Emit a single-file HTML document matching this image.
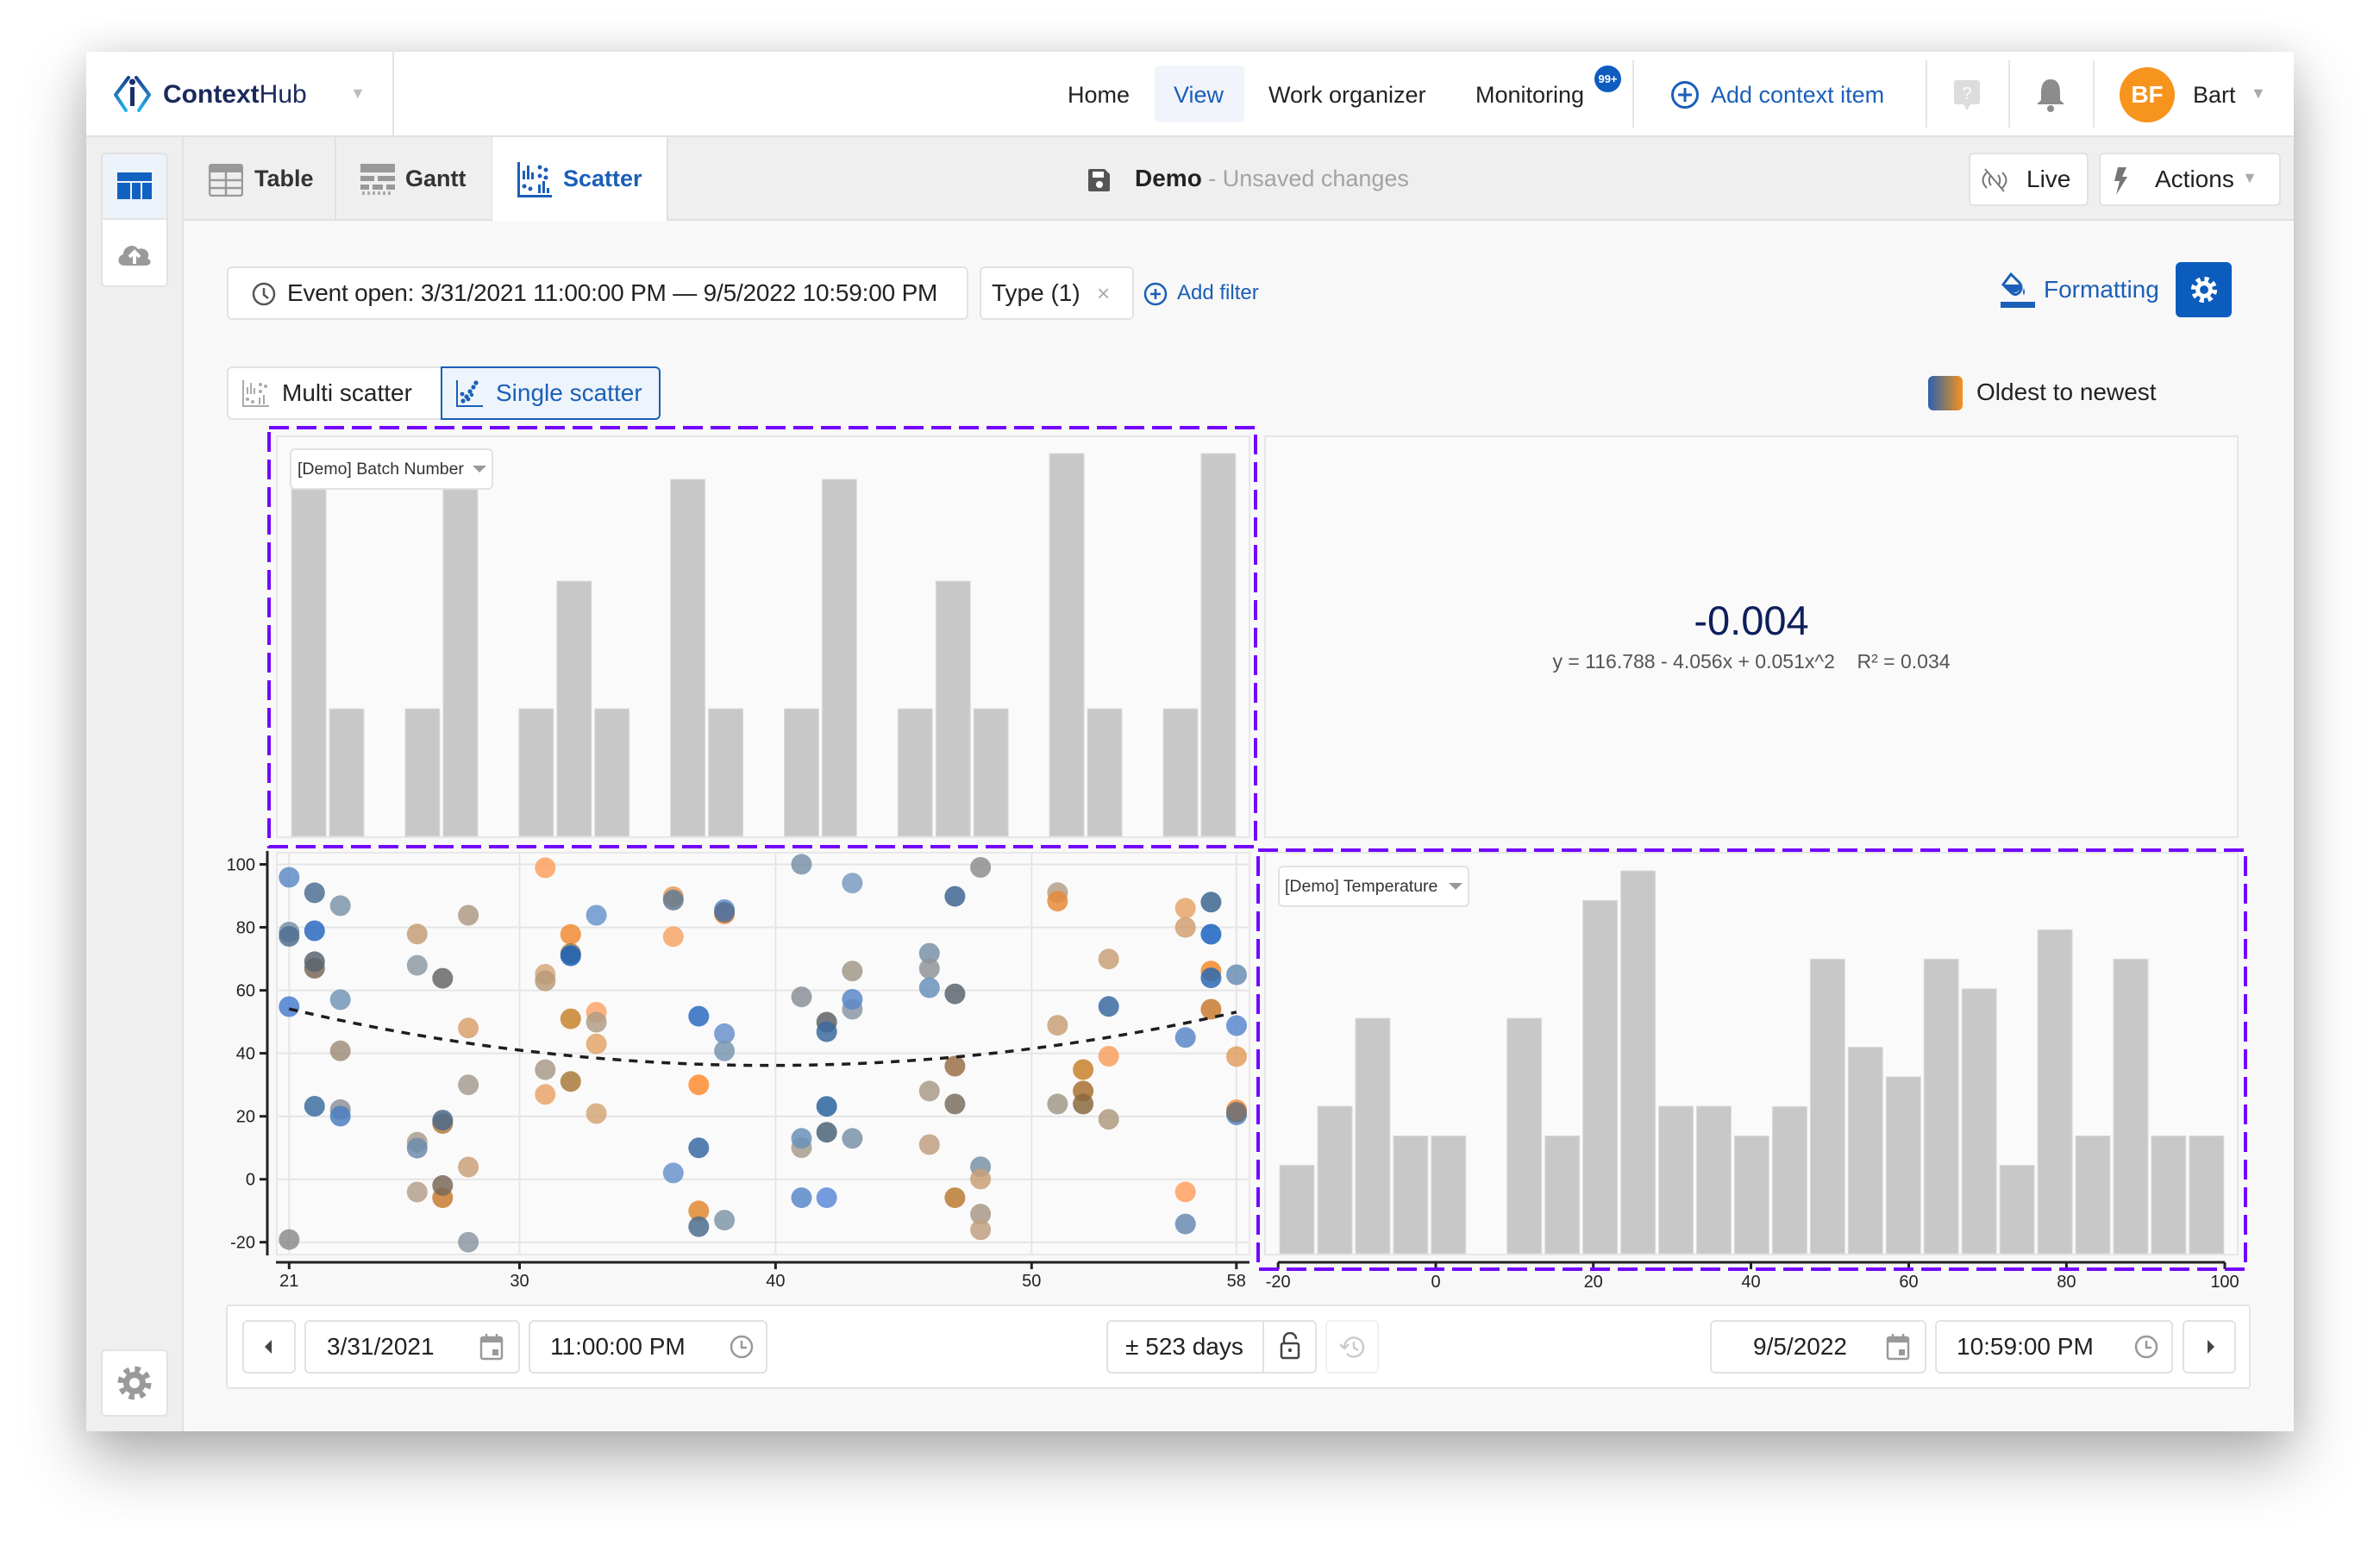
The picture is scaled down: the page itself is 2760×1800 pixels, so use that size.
<!DOCTYPE html>
<html><head><meta charset="utf-8">
<style>
*{box-sizing:border-box;margin:0;padding:0}
body{width:2760px;height:1800px;background:#fff;position:relative;overflow:hidden;font-family:"Liberation Sans",sans-serif;color:#222}
.a{position:absolute}
.t{position:absolute;white-space:nowrap;line-height:40px;font-size:27px}
.box{position:absolute;background:#fff;border:2px solid #e2e2e2;border-radius:6px}
.vd{position:absolute;width:2px;background:#e6e6e6}
</style></head><body>

<!-- window -->
<div class="a" style="left:100px;top:60px;width:2560px;height:1600px;background:#f8f8f8;box-shadow:0 34px 70px rgba(0,0,0,.30),0 0 40px rgba(0,0,0,.10)"></div>

<!-- header -->
<div class="a" style="left:100px;top:60px;width:2560px;height:99px;background:#fff;border-bottom:2px solid #e2e2e2"></div>
<svg class="a" style="left:128px;top:84px" width="52" height="52" viewBox="128 84 52 52">
  <defs><linearGradient id="lg" x1="0" y1="0" x2="0" y2="1"><stop offset="0" stop-color="#1b3f95"/><stop offset="1" stop-color="#25b4ea"/></linearGradient></defs>
  <path d="M149 90 L134 110 L146 128 M158 90 L173 110 L161 128" fill="none" stroke="url(#lg)" stroke-width="4" stroke-linejoin="round" stroke-linecap="round"/>
  <circle cx="153.5" cy="95" r="3.5" fill="#1b2f6e"/>
  <rect x="151" y="101" width="5" height="22" fill="#1b2f6e"/>
</svg>
<div class="t" style="left:189px;top:90px;font-size:30px;color:#1b2a5c"><b>Context</b>Hub</div>
<div class="t" style="left:406px;top:88px;font-size:18px;color:#bbb">▼</div>
<div class="vd" style="left:455px;top:60px;height:98px;background:#e4e4e4"></div>

<div class="t" style="left:1238px;top:90px">Home</div>
<div class="a" style="left:1339px;top:76px;width:104px;height:66px;background:#f1f4fa;border-radius:6px"></div>
<div class="t" style="left:1361px;top:90px;color:#1a5fb8">View</div>
<div class="t" style="left:1471px;top:90px">Work organizer</div>
<div class="t" style="left:1711px;top:90px">Monitoring</div>
<div class="a" style="left:1849px;top:76px;width:31px;height:31px;border-radius:50%;background:#0f5cc0;color:#fff;font-size:13px;font-weight:bold;line-height:31px;text-align:center">99+</div>
<div class="vd" style="left:1893px;top:70px;height:78px"></div>
<svg class="a" style="left:1936px;top:92px" width="36" height="36"><circle cx="18" cy="18" r="14.5" fill="none" stroke="#1a5fb8" stroke-width="3"/><path d="M18 10v16M10 18h16" stroke="#1a5fb8" stroke-width="3"/></svg>
<div class="t" style="left:1984px;top:90px;color:#1a5fb8">Add context item</div>
<div class="vd" style="left:2233px;top:70px;height:78px"></div>
<svg class="a" style="left:2264px;top:92px" width="36" height="38"><rect x="2" y="1" width="30" height="28" rx="3" fill="#dcdcdc"/><path d="M13 29 L17 36 L21 29Z" fill="#dcdcdc"/><text x="17" y="23" font-size="20" fill="#fff" text-anchor="middle" font-family="Liberation Sans">?</text></svg>
<div class="vd" style="left:2329px;top:70px;height:78px"></div>
<svg class="a" style="left:2358px;top:88px" width="40" height="44"><path d="M20 4 C11 4 9 12 9 20 L9 28 L4 33 L36 33 L31 28 L31 20 C31 12 29 4 20 4Z" fill="#8c8c8c"/><circle cx="20" cy="38" r="4" fill="#8c8c8c"/></svg>
<div class="vd" style="left:2427px;top:70px;height:78px"></div>
<div class="a" style="left:2458px;top:78px;width:64px;height:64px;border-radius:50%;background:#f7941d;color:#fff;font-size:28px;font-weight:bold;line-height:64px;text-align:center">BF</div>
<div class="t" style="left:2543px;top:90px">Bart</div>
<div class="t" style="left:2610px;top:88px;font-size:18px;color:#aaa">▼</div>

<!-- sidebar -->
<div class="a" style="left:100px;top:159px;width:113px;height:1501px;background:#efefef;border-right:2px solid #e2e2e2"></div>
<div class="box" style="left:117px;top:177px;width:78px;height:156px;overflow:hidden">
  <div class="a" style="left:0;top:0;width:74px;height:76px;background:#edf3fa;border-bottom:2px solid #e4e4e4"></div>
</div>
<svg class="a" style="left:130px;top:195px" width="50" height="40" viewBox="130 195 50 40">
  <rect x="136" y="200" width="40" height="10" fill="#1262c2"/>
  <rect x="136" y="212" width="15" height="19" fill="#1262c2"/>
  <rect x="153" y="212" width="10" height="19" fill="#1262c2"/>
  <rect x="165" y="212" width="11" height="19" fill="#1262c2"/>
</svg>
<svg class="a" style="left:134px;top:276px" width="44" height="36" viewBox="0 0 44 36"><path d="M10 32 C2 32 1 21 9 19 C9 9 22 6 26 13 C35 10 41 18 37 24 C43 26 41 32 35 32Z" fill="#9a9a9a"/><path d="M22 30 V17 M16 22 L22 16 L28 22" stroke="#fff" stroke-width="4" fill="none"/></svg>
<div class="box" style="left:117px;top:1565px;width:78px;height:78px"></div>
<svg class="a" style="left:134px;top:1582px" width="44" height="44" viewBox="0 0 44 44"><circle cx="22" cy="22" r="13" fill="#9a9a9a"/><circle cx="22" cy="22" r="16" fill="none" stroke="#9a9a9a" stroke-width="7" stroke-dasharray="6.3 6.3"/><circle cx="22" cy="22" r="6" fill="#fff"/></svg>

<!-- tab bar -->
<div class="a" style="left:213px;top:159px;width:2447px;height:97px;background:#efefef;border-bottom:2px solid #e0e0e0"></div>
<div class="vd" style="left:388px;top:159px;height:95px;background:#e0e0e0"></div>
<div class="vd" style="left:570px;top:159px;height:95px;background:#e0e0e0"></div>
<div class="a" style="left:571px;top:159px;width:202px;height:97px;background:#fff"></div>
<div class="vd" style="left:773px;top:159px;height:95px;background:#e0e0e0"></div>
<svg class="a" style="left:242px;top:190px" width="40" height="38"><rect x="1" y="1" width="38" height="36" rx="3" fill="none" stroke="#999" stroke-width="2.5"/><rect x="1" y="1" width="38" height="9" fill="#999"/><path d="M1 19h38M1 28h38M20 10v27" stroke="#999" stroke-width="2.5"/></svg>
<div class="t" style="left:295px;top:187px;font-size:27px;font-weight:bold;color:#333">Table</div>
<svg class="a" style="left:418px;top:190px" width="42" height="38"><rect x="0" y="0" width="40" height="10" fill="#999"/><rect x="0" y="14" width="16" height="6" fill="#999"/><rect x="20" y="14" width="20" height="6" fill="#999"/><rect x="0" y="24" width="10" height="6" fill="#999"/><rect x="14" y="24" width="12" height="6" fill="#999"/><rect x="30" y="24" width="10" height="6" fill="#999"/><path d="M2 34h36" stroke="#aaa" stroke-width="4" stroke-dasharray="3 3"/></svg>
<div class="t" style="left:470px;top:187px;font-size:27px;font-weight:bold;color:#333">Gantt</div>
<svg class="a" style="left:600px;top:188px" width="42" height="42" fill="#1a5fb8"><rect x="0" y="0" width="3" height="40"/><rect x="0" y="38" width="40" height="3"/><rect x="6" y="10" width="3" height="10"/><rect x="11" y="4" width="3" height="16"/><rect x="16" y="12" width="3" height="8"/><circle cx="26" cy="6" r="2.5"/><circle cx="33" cy="9" r="2.5"/><circle cx="26" cy="16" r="2.5"/><circle cx="33" cy="18" r="2.5"/><circle cx="8" cy="28" r="2.5"/><circle cx="15" cy="31" r="2.5"/><rect x="24" y="26" width="3" height="10"/><rect x="29" y="22" width="3" height="14"/><rect x="34" y="30" width="3" height="6"/></svg>
<div class="t" style="left:653px;top:187px;font-size:27px;font-weight:bold;color:#1a5fb8">Scatter</div>

<svg class="a" style="left:1262px;top:196px" width="26" height="26"><path d="M2 0h17l6 6v18a2 2 0 0 1-2 2H2a2 2 0 0 1-2-2V2a2 2 0 0 1 2-2z" fill="#555"/><rect x="5" y="3" width="13" height="7" fill="#fff"/><circle cx="13" cy="18" r="4" fill="#fff"/></svg>
<div class="t" style="left:1316px;top:187px;font-size:28px"><b>Demo</b><span style="color:#a3a3a3;font-size:27px"> - Unsaved changes</span></div>

<div class="box" style="left:2283px;top:177px;width:139px;height:62px"></div>
<svg class="a" style="left:2298px;top:194px" width="30" height="30"><path d="M6 6 C0 12 0 18 6 24 M11 9 C8 12 8 18 11 21 M24 6 C30 12 30 18 24 24 M19 9 C22 12 22 18 19 21" fill="none" stroke="#777" stroke-width="2"/><path d="M4 2 L26 28" stroke="#777" stroke-width="2"/></svg>
<div class="t" style="left:2350px;top:188px;font-size:28px">Live</div>
<div class="box" style="left:2434px;top:177px;width:211px;height:62px"></div>
<svg class="a" style="left:2450px;top:194px" width="20" height="32"><path d="M6 0 L16 0 L11 11 L17 11 L4 32 L8 16 L2 16Z" fill="#777"/></svg>
<div class="t" style="left:2499px;top:188px;font-size:28px">Actions</div>
<div class="t" style="left:2600px;top:186px;font-size:18px;color:#aaa">▼</div>

<!-- filter row -->
<div class="box" style="left:263px;top:309px;width:860px;height:62px"></div>
<svg class="a" style="left:291px;top:326px" width="30" height="30"><circle cx="15" cy="15" r="12" fill="none" stroke="#555" stroke-width="2.5"/><path d="M15 8v8l5 4" fill="none" stroke="#555" stroke-width="2.5"/></svg>
<div class="t" style="left:333px;top:320px;font-size:28px;letter-spacing:-0.2px">Event open: 3/31/2021 11:00:00 PM — 9/5/2022 10:59:00 PM</div>
<div class="box" style="left:1136px;top:309px;width:179px;height:62px"></div>
<div class="t" style="left:1150px;top:320px;font-size:28px">Type (1)</div>
<div class="t" style="left:1272px;top:320px;font-size:26px;color:#aaa">×</div>
<svg class="a" style="left:1325px;top:326px" width="30" height="30"><circle cx="15" cy="15" r="12" fill="none" stroke="#1a5fb8" stroke-width="2.5"/><path d="M15 9v12M9 15h12" stroke="#1a5fb8" stroke-width="2.5"/></svg>
<div class="t" style="left:1365px;top:320px;font-size:24px;color:#1a5fb8">Add filter</div>

<svg class="a" style="left:2318px;top:314px" width="46" height="44"><path d="M14 4 L24 14 Q28 20 24 25 Q19 30 14 25 L5 16 Z" fill="none" stroke="#1a5fb8" stroke-width="3"/><path d="M5 16 L24 16 Q26 21 22 24 Q18 27 14 24Z" fill="#1a5fb8"/><path d="M29 20 Q27 26 29 28 Q31 26 29 20Z" fill="#1a5fb8"/><rect x="2" y="36" width="40" height="7" fill="#1a5fb8"/></svg>
<div class="t" style="left:2370px;top:316px;font-size:28px;color:#1a5fb8">Formatting</div>
<div class="a" style="left:2523px;top:304px;width:65px;height:64px;background:#0b5cbd;border-radius:6px"></div>
<svg class="a" style="left:2538px;top:318px" width="36" height="36" viewBox="0 0 44 44"><circle cx="22" cy="22" r="12" fill="#fff"/><circle cx="22" cy="22" r="15" fill="none" stroke="#fff" stroke-width="7" stroke-dasharray="6 5.8"/><circle cx="22" cy="22" r="6" fill="#0b5cbd"/></svg>

<!-- toggle -->
<div class="a" style="left:263px;top:425px;width:250px;height:62px;background:#fff;border:2px solid #e2e2e2;border-radius:6px 0 0 6px"></div>
<div class="a" style="left:511px;top:425px;width:255px;height:62px;background:#eef4fb;border:2px solid #1a5fb8;border-radius:0 6px 6px 0"></div>
<svg class="a" style="left:281px;top:441px" width="32" height="32" fill="#aaa"><rect x="0" y="0" width="2" height="31"/><rect x="0" y="29" width="31" height="2"/><rect x="5" y="8" width="2" height="8"/><rect x="9" y="3" width="2" height="13"/><rect x="13" y="9" width="2" height="7"/><circle cx="21" cy="5" r="2"/><circle cx="27" cy="7" r="2"/><circle cx="21" cy="13" r="2"/><circle cx="6" cy="22" r="2"/><circle cx="12" cy="25" r="2"/><rect x="19" y="20" width="2" height="8"/><rect x="24" y="17" width="2" height="11"/></svg>
<div class="t" style="left:327px;top:436px;font-size:28px">Multi scatter</div>
<svg class="a" style="left:529px;top:441px" width="32" height="32" fill="#1a5fb8"><rect x="0" y="0" width="2" height="31"/><rect x="0" y="29" width="31" height="2"/><circle cx="8" cy="24" r="2.6"/><circle cx="12" cy="19" r="2.6"/><circle cx="7" cy="16" r="2.4"/><circle cx="16" cy="13" r="2.6"/><circle cx="20" cy="8" r="2.6"/><circle cx="14" cy="22" r="2.4"/><circle cx="23" cy="3" r="2.6"/><circle cx="18" cy="17" r="2.2"/></svg>
<div class="t" style="left:575px;top:436px;font-size:28px;color:#1a5fb8">Single scatter</div>

<div class="a" style="left:2236px;top:436px;width:40px;height:40px;border-radius:6px;background:linear-gradient(90deg,#2c62ae,#8c7a66,#f8911c)"></div>
<div class="t" style="left:2292px;top:435px;font-size:28px">Oldest to newest</div>

<!-- panels -->
<div class="a" style="left:320px;top:505px;width:1130px;height:467px;background:#fafafa;border:2px solid #e6e6e6"></div>
<div class="a" style="left:1466px;top:505px;width:1130px;height:467px;background:#fafafa;border:2px solid #e6e6e6"></div>
<div class="a" style="left:320px;top:988px;width:1130px;height:468px;background:#fafafa;border:2px solid #e8e8e8"></div>
<div class="a" style="left:1466px;top:988px;width:1130px;height:468px;background:#fafafa;border:2px solid #e6e6e6"></div>

<div class="t" style="left:1831px;top:690px;width:400px;text-align:center;font-size:47px;line-height:60px;color:#0e1f5b">-0.004</div>
<div class="t" style="left:1631px;top:750px;width:800px;text-align:center;font-size:23px;line-height:34px;color:#555">y = 116.788 - 4.056x + 0.051x^2&nbsp;&nbsp;&nbsp; R² = 0.034</div>

<svg class="a" style="left:0;top:0" width="2760" height="1800">
<g fill="#c8c8c8" stroke="#dcdcdc" stroke-width="1">
<!-- top histogram -->
<rect x="338.1" y="556" width="40" height="414"/>
<rect x="382.0" y="822" width="40" height="148"/>
<rect x="469.9" y="822" width="40" height="148"/>
<rect x="513.9" y="556" width="40" height="414"/>
<rect x="601.8" y="822" width="40" height="148"/>
<rect x="645.8" y="674" width="40" height="296"/>
<rect x="689.7" y="822" width="40" height="148"/>
<rect x="777.6" y="556" width="40" height="414"/>
<rect x="821.6" y="822" width="40" height="148"/>
<rect x="909.5" y="822" width="40" height="148"/>
<rect x="953.4" y="556" width="40" height="414"/>
<rect x="1041.3" y="822" width="40" height="148"/>
<rect x="1085.3" y="674" width="40" height="296"/>
<rect x="1129.2" y="822" width="40" height="148"/>
<rect x="1217.1" y="526" width="40" height="444"/>
<rect x="1261.1" y="822" width="40" height="148"/>
<rect x="1349.0" y="822" width="40" height="148"/>
<rect x="1392.9" y="526" width="40" height="444"/>
<!-- right histogram -->
<rect x="1484.0" y="1351.4" width="40" height="102.6"/>
<rect x="1528.0" y="1283" width="40" height="171"/>
<rect x="1571.9" y="1181" width="40" height="273"/>
<rect x="1615.9" y="1317.4" width="40" height="136.6"/>
<rect x="1659.8" y="1317.4" width="40" height="136.6"/>
<rect x="1747.7" y="1181" width="40" height="273"/>
<rect x="1791.7" y="1317.4" width="40" height="136.6"/>
<rect x="1835.6" y="1044.4" width="40" height="409.6"/>
<rect x="1879.6" y="1010" width="40" height="444"/>
<rect x="1923.5" y="1283" width="40" height="171"/>
<rect x="1967.5" y="1283" width="40" height="171"/>
<rect x="2011.4" y="1317.4" width="40" height="136.6"/>
<rect x="2055.4" y="1283.4" width="40" height="170.6"/>
<rect x="2099.4" y="1112.3" width="40" height="341.7"/>
<rect x="2143.3" y="1214.5" width="40" height="239.5"/>
<rect x="2187.3" y="1248.9" width="40" height="205.1"/>
<rect x="2231.2" y="1112.3" width="40" height="341.7"/>
<rect x="2275.2" y="1146.8" width="40" height="307.2"/>
<rect x="2319.1" y="1351.5" width="40" height="102.5"/>
<rect x="2363.1" y="1078.3" width="40" height="375.7"/>
<rect x="2407.0" y="1317.4" width="40" height="136.6"/>
<rect x="2451.0" y="1112.3" width="40" height="341.7"/>
<rect x="2494.9" y="1317.4" width="40" height="136.6"/>
<rect x="2538.9" y="1317.4" width="40" height="136.6"/>
</g>

<!-- scatter grid -->
<g stroke="#e5e5e5" stroke-width="2">
<line x1="322" y1="1002.5" x2="1448" y2="1002.5"/>
<line x1="322" y1="1075.5" x2="1448" y2="1075.5"/>
<line x1="322" y1="1148.6" x2="1448" y2="1148.6"/>
<line x1="322" y1="1221.6" x2="1448" y2="1221.6"/>
<line x1="322" y1="1294.7" x2="1448" y2="1294.7"/>
<line x1="322" y1="1367.7" x2="1448" y2="1367.7"/>
<line x1="322" y1="1440.7" x2="1448" y2="1440.7"/>
<line x1="335.3" y1="990" x2="335.3" y2="1454"/>
<line x1="602.5" y1="990" x2="602.5" y2="1454"/>
<line x1="899.4" y1="990" x2="899.4" y2="1454"/>
<line x1="1196.3" y1="990" x2="1196.3" y2="1454"/>
<line x1="1433.8" y1="990" x2="1433.8" y2="1454"/>
</g>
<!-- scatter axes -->
<g stroke="#222" stroke-width="3">
<line x1="310" y1="987" x2="310" y2="1456"/>
<line x1="301" y1="1002.5" x2="310" y2="1002.5"/>
<line x1="301" y1="1075.5" x2="310" y2="1075.5"/>
<line x1="301" y1="1148.6" x2="310" y2="1148.6"/>
<line x1="301" y1="1221.6" x2="310" y2="1221.6"/>
<line x1="301" y1="1294.7" x2="310" y2="1294.7"/>
<line x1="301" y1="1367.7" x2="310" y2="1367.7"/>
<line x1="301" y1="1440.7" x2="310" y2="1440.7"/>
<line x1="320" y1="1464" x2="1449" y2="1464"/>
<line x1="335.3" y1="1464" x2="335.3" y2="1472"/>
<line x1="602.5" y1="1464" x2="602.5" y2="1472"/>
<line x1="899.4" y1="1464" x2="899.4" y2="1472"/>
<line x1="1196.3" y1="1464" x2="1196.3" y2="1472"/>
<line x1="1433.8" y1="1464" x2="1433.8" y2="1472"/>
<line x1="1482" y1="1464" x2="2580" y2="1464"/>
<line x1="1482.2" y1="1464" x2="1482.2" y2="1472"/>
<line x1="1665" y1="1464" x2="1665" y2="1472"/>
<line x1="1847.7" y1="1464" x2="1847.7" y2="1472"/>
<line x1="2030.5" y1="1464" x2="2030.5" y2="1472"/>
<line x1="2213.5" y1="1464" x2="2213.5" y2="1472"/>
<line x1="2396.4" y1="1464" x2="2396.4" y2="1472"/>
<line x1="2580" y1="1464" x2="2580" y2="1472"/>
</g>
<g font-family="Liberation Sans" font-size="20" fill="#222">
<g text-anchor="end">
<text x="296" y="1009.5">100</text><text x="296" y="1082.5">80</text><text x="296" y="1155.6">60</text><text x="296" y="1228.6">40</text><text x="296" y="1301.7">20</text><text x="296" y="1374.7">0</text><text x="296" y="1447.7">-20</text>
</g>
<g text-anchor="middle">
<text x="335.3" y="1492">21</text><text x="602.5" y="1492">30</text><text x="899.4" y="1492">40</text><text x="1196.3" y="1492">50</text><text x="1433.8" y="1492">58</text>
<text x="1482.2" y="1493">-20</text><text x="1665" y="1493">0</text><text x="1847.7" y="1493">20</text><text x="2030.5" y="1493">40</text><text x="2213.5" y="1493">60</text><text x="2396.4" y="1493">80</text><text x="2580" y="1493">100</text>
</g>
</g>

<!-- dots -->
<g fill-opacity="0.85">
<circle cx="335.3" cy="1017.5" r="12" fill="#5f8cc6"/>
<circle cx="364.8" cy="1035.4" r="12" fill="#4d7093"/>
<circle cx="394.7" cy="1050.4" r="12" fill="#7d95a8"/>
<circle cx="335.3" cy="1081" r="12" fill="#7890a6"/>
<circle cx="335.3" cy="1086" r="12" fill="#4f7090"/>
<circle cx="364.8" cy="1079.5" r="12" fill="#2a68bf"/>
<circle cx="364.8" cy="1123" r="12" fill="#7a6a58"/>
<circle cx="364.8" cy="1115.4" r="12" fill="#5b6570"/>
<circle cx="394.7" cy="1159.4" r="12" fill="#7396b6"/>
<circle cx="335.3" cy="1167.5" r="12" fill="#4a7ed0"/>
<circle cx="394.7" cy="1218.8" r="12" fill="#a08e7a"/>
<circle cx="364.8" cy="1283" r="12" fill="#3c6e9f"/>
<circle cx="394.7" cy="1286.9" r="12" fill="#8e9296"/>
<circle cx="394.7" cy="1294.5" r="12" fill="#4a7fc0"/>
<circle cx="335.3" cy="1437.6" r="12" fill="#8c8c8c"/>
<circle cx="483.8" cy="1083.3" r="12" fill="#c49e78"/>
<circle cx="543.1" cy="1061.5" r="12" fill="#ae9a84"/>
<circle cx="483.8" cy="1119.6" r="12" fill="#8e9aa4"/>
<circle cx="513.3" cy="1134.6" r="12" fill="#676767"/>
<circle cx="543.1" cy="1192.3" r="12" fill="#d9a06c"/>
<circle cx="543.1" cy="1258.2" r="12" fill="#a69c90"/>
<circle cx="513.3" cy="1303" r="12" fill="#b07a40"/>
<circle cx="513.3" cy="1299.1" r="12" fill="#4c6a88"/>
<circle cx="483.8" cy="1324.8" r="12" fill="#a89c8e"/>
<circle cx="483.8" cy="1331.6" r="12" fill="#6d8cac"/>
<circle cx="543.1" cy="1353.5" r="12" fill="#c8a07a"/>
<circle cx="483.8" cy="1382.5" r="12" fill="#b4a08a"/>
<circle cx="513.3" cy="1389.1" r="12" fill="#c87a30"/>
<circle cx="513.3" cy="1374.9" r="12" fill="#7a6a58"/>
<circle cx="543.1" cy="1440.7" r="12" fill="#8c98a4"/>
<circle cx="632.3" cy="1006.4" r="12" fill="#fda060"/>
<circle cx="661.8" cy="1083.7" r="12" fill="#f28b32"/>
<circle cx="691.6" cy="1061.5" r="12" fill="#6a94cc"/>
<circle cx="661.8" cy="1105.9" r="12" fill="#9a7a50"/>
<circle cx="661.8" cy="1108.5" r="12" fill="#1862b8"/>
<circle cx="632.3" cy="1130" r="12" fill="#d4a87a"/>
<circle cx="632.3" cy="1137.6" r="12" fill="#b89a7a"/>
<circle cx="661.8" cy="1181.6" r="12" fill="#c8822e"/>
<circle cx="691.6" cy="1174" r="12" fill="#fba468"/>
<circle cx="691.6" cy="1185.5" r="12" fill="#b09c86"/>
<circle cx="691.6" cy="1210.7" r="12" fill="#e2a468"/>
<circle cx="632.3" cy="1240.6" r="12" fill="#a89a8a"/>
<circle cx="661.8" cy="1254.3" r="12" fill="#a87a3a"/>
<circle cx="632.3" cy="1269.3" r="12" fill="#e8a46a"/>
<circle cx="691.6" cy="1291.5" r="12" fill="#d2a676"/>
<circle cx="780.8" cy="1040" r="12" fill="#e09a5a"/>
<circle cx="780.8" cy="1043.9" r="12" fill="#637a90"/>
<circle cx="780.8" cy="1086.3" r="12" fill="#f5a466"/>
<circle cx="810.3" cy="1178.6" r="12" fill="#2a6bc0"/>
<circle cx="810.3" cy="1258.2" r="12" fill="#ff8c30"/>
<circle cx="810.3" cy="1331.3" r="12" fill="#386aa2"/>
<circle cx="780.8" cy="1360.4" r="12" fill="#6a92cc"/>
<circle cx="810.3" cy="1404.4" r="12" fill="#e08a30"/>
<circle cx="810.3" cy="1422.7" r="12" fill="#4c6c8c"/>
<circle cx="840.1" cy="1060" r="12" fill="#f09040"/>
<circle cx="840.1" cy="1055" r="12" fill="#5f8dca"/>
<circle cx="840.1" cy="1058" r="12" fill="#587090"/>
<circle cx="840.1" cy="1198.9" r="12" fill="#6890cc"/>
<circle cx="840.1" cy="1218.8" r="12" fill="#7a96b0"/>
<circle cx="840.1" cy="1415.1" r="12" fill="#8096a8"/>
<circle cx="929.5" cy="1002.4" r="12" fill="#7a92a8"/>
<circle cx="988.4" cy="1024.2" r="12" fill="#7a9ac0"/>
<circle cx="1107.4" cy="1039.6" r="12" fill="#3f6590"/>
<circle cx="1137.1" cy="1006" r="12" fill="#8e8e8e"/>
<circle cx="1226.4" cy="1035.2" r="12" fill="#b4a08a"/>
<circle cx="1226.4" cy="1045.1" r="12" fill="#e58a3a"/>
<circle cx="1374.7" cy="1053.4" r="12" fill="#e6a468"/>
<circle cx="1374.7" cy="1075.6" r="12" fill="#d0a070"/>
<circle cx="1404.4" cy="1046.3" r="12" fill="#3c6690"/>
<circle cx="1404.4" cy="1083.5" r="12" fill="#1a63c0"/>
<circle cx="1285.7" cy="1112.3" r="12" fill="#c8a078"/>
<circle cx="1404.4" cy="1126.2" r="12" fill="#f58a2a"/>
<circle cx="1404.4" cy="1134.1" r="12" fill="#2a6ab0"/>
<circle cx="1434" cy="1130.5" r="12" fill="#6a8eb4"/>
<circle cx="1077.8" cy="1105.6" r="12" fill="#7a92a8"/>
<circle cx="1077.8" cy="1123.4" r="12" fill="#909498"/>
<circle cx="1077.8" cy="1145.6" r="12" fill="#6a92ba"/>
<circle cx="1107.4" cy="1152.7" r="12" fill="#5a6570"/>
<circle cx="988.4" cy="1126.2" r="12" fill="#a09888"/>
<circle cx="929.5" cy="1156.2" r="12" fill="#8a9098"/>
<circle cx="988.4" cy="1170.5" r="12" fill="#8a96a4"/>
<circle cx="988.4" cy="1159" r="12" fill="#5a88c8"/>
<circle cx="958.7" cy="1185.5" r="12" fill="#5f6366"/>
<circle cx="958.7" cy="1196.6" r="12" fill="#3a6a9c"/>
<circle cx="1285.7" cy="1167.3" r="12" fill="#3a6aa0"/>
<circle cx="1226.4" cy="1189.1" r="12" fill="#c8a078"/>
<circle cx="1374.7" cy="1203.3" r="12" fill="#5a88c8"/>
<circle cx="1404.4" cy="1170.5" r="12" fill="#c87a30"/>
<circle cx="1434" cy="1189.5" r="12" fill="#5a88cc"/>
<circle cx="1285.7" cy="1225" r="12" fill="#f8a060"/>
<circle cx="1434" cy="1225.4" r="12" fill="#e0a060"/>
<circle cx="1107.4" cy="1236.5" r="12" fill="#9a7048"/>
<circle cx="1256.1" cy="1240.5" r="12" fill="#c8802a"/>
<circle cx="1256.1" cy="1265.4" r="12" fill="#a87030"/>
<circle cx="1256.1" cy="1280.4" r="12" fill="#8a6a40"/>
<circle cx="1077.8" cy="1265.4" r="12" fill="#a89a88"/>
<circle cx="1107.4" cy="1280.4" r="12" fill="#7a7060"/>
<circle cx="1226.4" cy="1280.4" r="12" fill="#a09888"/>
<circle cx="1285.7" cy="1298.2" r="12" fill="#b09a80"/>
<circle cx="1434" cy="1293" r="12" fill="#5a88c0"/>
<circle cx="1434" cy="1287.1" r="12" fill="#f59040"/>
<circle cx="1434" cy="1290" r="12" fill="#6a7078"/>
<circle cx="958.7" cy="1283.2" r="12" fill="#2a649e"/>
<circle cx="929.5" cy="1331" r="12" fill="#a89c8e"/>
<circle cx="929.5" cy="1320.3" r="12" fill="#6a90b8"/>
<circle cx="958.7" cy="1313.2" r="12" fill="#4a6478"/>
<circle cx="988.4" cy="1320.3" r="12" fill="#7a92a8"/>
<circle cx="1077.8" cy="1327.5" r="12" fill="#c0a080"/>
<circle cx="1137.1" cy="1353.2" r="12" fill="#7a92a8"/>
<circle cx="1137.1" cy="1367.4" r="12" fill="#c8a078"/>
<circle cx="929.5" cy="1389.1" r="12" fill="#5a88c8"/>
<circle cx="958.7" cy="1389.1" r="12" fill="#5a8ad8"/>
<circle cx="1107.4" cy="1389.1" r="12" fill="#b87a30"/>
<circle cx="1137.1" cy="1408.1" r="12" fill="#a89888"/>
<circle cx="1137.1" cy="1426.3" r="12" fill="#c0a080"/>
<circle cx="1374.7" cy="1382.4" r="12" fill="#ffa060"/>
<circle cx="1374.7" cy="1419.6" r="12" fill="#6a8ab0"/>
</g>
<path d="M335.3 1170.1 Q884.6 1299.4 1433.8 1173.8" fill="none" stroke="#1e1e1e" stroke-width="3.5" stroke-dasharray="10 9"/>

<!-- dashed highlight boxes -->
<g fill="none" stroke="#7305ff" stroke-width="4" stroke-dasharray="23 9">
<rect x="312" y="496" width="1144" height="486"/>
<rect x="1459" y="986" width="1145" height="486"/>
</g>
</svg>

<!-- dropdowns -->
<div class="box" style="left:336px;top:520px;width:236px;height:48px;border-radius:6px"></div>
<div class="t" style="left:345px;top:524px;font-size:19.5px;color:#333">[Demo] Batch Number</div>
<svg class="a" style="left:548px;top:540px" width="16" height="9"><path d="M0 0h16L8 8z" fill="#999"/></svg>
<div class="box" style="left:1482px;top:1004px;width:222px;height:48px;border-radius:6px"></div>
<div class="t" style="left:1490px;top:1008px;font-size:19.5px;color:#333">[Demo] Temperature</div>
<svg class="a" style="left:1680px;top:1024px" width="16" height="9"><path d="M0 0h16L8 8z" fill="#999"/></svg>

<!-- bottom bar -->
<div class="a" style="left:262px;top:1513px;width:2348px;height:98px;background:#fff;border:2px solid #e3e3e3;border-radius:4px"></div>
<div class="box" style="left:281px;top:1531px;width:62px;height:62px"></div>
<svg class="a" style="left:306px;top:1554px" width="12" height="16"><path d="M9 0 L1 8 L9 16Z" fill="#444"/></svg>
<div class="box" style="left:353px;top:1531px;width:250px;height:62px"></div>
<div class="t" style="left:379px;top:1542px;font-size:28px">3/31/2021</div>
<svg class="a" style="left:556px;top:1546px" width="28" height="32"><rect x="2" y="5" width="24" height="25" rx="2" fill="none" stroke="#999" stroke-width="2.5"/><rect x="2" y="5" width="24" height="6" fill="#999"/><path d="M8 1v7M20 1v7" stroke="#999" stroke-width="2.5"/><rect x="15" y="19" width="7" height="7" fill="#999"/></svg>
<div class="box" style="left:613px;top:1531px;width:277px;height:62px"></div>
<div class="t" style="left:638px;top:1542px;font-size:28px">11:00:00 PM</div>
<svg class="a" style="left:845px;top:1547px" width="30" height="30"><circle cx="15" cy="15" r="12" fill="none" stroke="#999" stroke-width="2.5"/><path d="M15 8v8h6" fill="none" stroke="#999" stroke-width="2.5"/></svg>

<div class="box" style="left:1283px;top:1531px;width:244px;height:62px"></div>
<div class="vd" style="left:1464px;top:1532px;height:60px;background:#e2e2e2"></div>
<div class="t" style="left:1283px;top:1542px;width:181px;text-align:center;font-size:28px">± 523 days</div>
<svg class="a" style="left:1484px;top:1545px" width="24" height="32"><path d="M5 13 V8 a7 7 0 0 1 14 0" fill="none" stroke="#444" stroke-width="2.5"/><rect x="2" y="13" width="20" height="17" rx="2" fill="none" stroke="#444" stroke-width="2.5"/><circle cx="12" cy="21" r="2.2" fill="#444"/></svg>
<div class="a" style="left:1537px;top:1531px;width:62px;height:62px;border:2px solid #f0f0f0;border-radius:6px"></div>
<svg class="a" style="left:1553px;top:1547px" width="32" height="30"><path d="M6 15 a11 11 0 1 1 3 8" fill="none" stroke="#ccc" stroke-width="2.5"/><path d="M1 12 L6 17 L11 12" fill="none" stroke="#ccc" stroke-width="2.5"/><path d="M17 9v7l5 3" fill="none" stroke="#ccc" stroke-width="2.5"/></svg>

<div class="box" style="left:1983px;top:1531px;width:251px;height:62px"></div>
<div class="t" style="left:2033px;top:1542px;font-size:28px">9/5/2022</div>
<svg class="a" style="left:2187px;top:1546px" width="28" height="32"><rect x="2" y="5" width="24" height="25" rx="2" fill="none" stroke="#999" stroke-width="2.5"/><rect x="2" y="5" width="24" height="6" fill="#999"/><path d="M8 1v7M20 1v7" stroke="#999" stroke-width="2.5"/><rect x="15" y="19" width="7" height="7" fill="#999"/></svg>
<div class="box" style="left:2244px;top:1531px;width:276px;height:62px"></div>
<div class="t" style="left:2269px;top:1542px;font-size:28px">10:59:00 PM</div>
<svg class="a" style="left:2474px;top:1547px" width="30" height="30"><circle cx="15" cy="15" r="12" fill="none" stroke="#999" stroke-width="2.5"/><path d="M15 8v8h6" fill="none" stroke="#999" stroke-width="2.5"/></svg>
<div class="box" style="left:2531px;top:1531px;width:62px;height:62px"></div>
<svg class="a" style="left:2557px;top:1554px" width="12" height="16"><path d="M3 0 L11 8 L3 16Z" fill="#444"/></svg>

</body></html>
